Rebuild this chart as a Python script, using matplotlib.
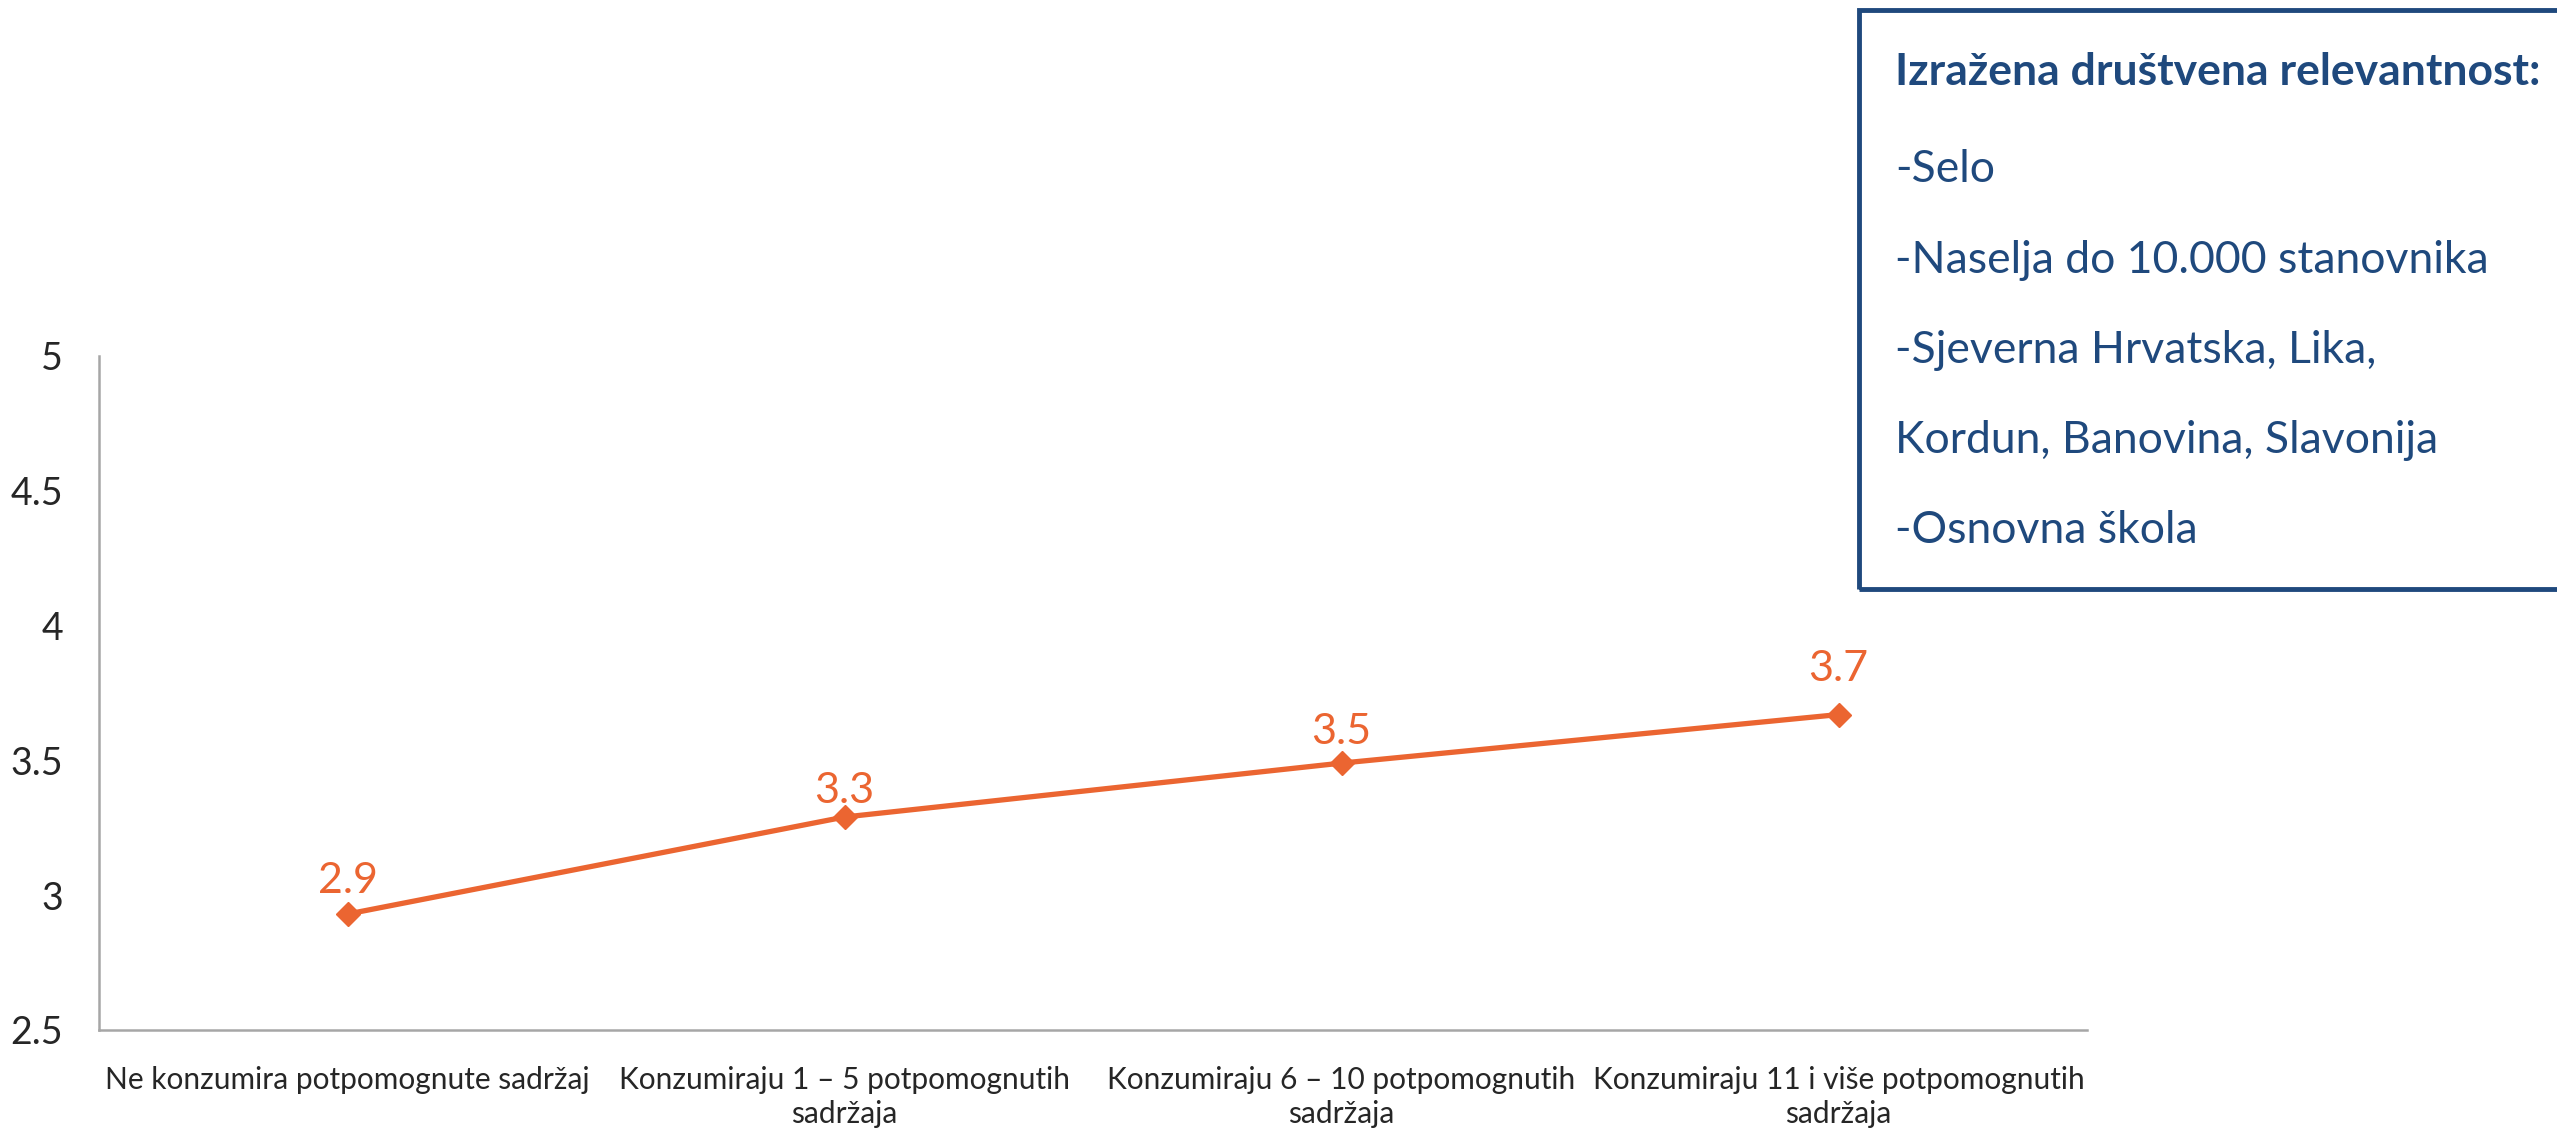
import matplotlib.pyplot as plt
from matplotlib.patches import Rectangle

# data
categories = ['Ne konzumira potpomognute sadržaj',
              'Konzumiraju 1 – 5 potpomognutih\nsadržaja',
              'Konzumiraju 6 – 10 potpomognutih\nsadržaja',
              'Konzumiraju 11 i više potpomognutih\nsadržaja']
values = [2.93, 3.29, 3.49, 3.67]
value_labels = ['2.9', '3.3', '3.5', '3.7']
yticks = [2.5, 3, 3.5, 4, 4.5, 5]

box_title = 'Izražena društvena relevantnost:'
box_lines = ['-Selo', '-Naselja do 10.000 stanovnika', '-Sjeverna Hrvatska, Lika,',
             'Kordun, Banovina, Slavonija', '-Osnovna škola']

ORANGE = '#EB6531'
BLUE = '#1F497D'
GREY = '#A6A6A6'
TEXT = '#262626'

plt.rcParams['font.family'] = ['Lato', 'DejaVu Sans']

W, H = 2557, 1129
fig = plt.figure(figsize=(W / 100, H / 100), dpi=100)
ax = fig.add_axes([99 / W, 1 - 1030 / H, (2087 - 99) / W, (1030 - 356) / H])

x = list(range(len(categories)))
ax.plot(x, values, color=ORANGE, lw=3.8, marker='D', markersize=12, zorder=3)
# label offsets above the markers (pt), as placed in the original
label_dy = [15, 10, 14, 24]
for xi, v, lab, dy in zip(x, values, value_labels, label_dy):
    ax.annotate(lab, (xi, v), xytext=(0, dy), textcoords='offset points',
                ha='center', va='baseline', fontsize=31, color=ORANGE)

ax.set_xlim(-0.5, len(categories) - 0.5)
ax.set_ylim(2.5, 5)
ax.set_yticks(yticks)
ax.set_yticklabels([f'{t:g}' for t in yticks])
ax.set_xticks(x)
ax.set_xticklabels(categories, fontsize=21.5, color=TEXT, linespacing=1.25,
                   multialignment='center')
ax.tick_params(axis='y', length=0, pad=26, labelsize=27, labelcolor=TEXT)
ax.tick_params(axis='x', length=0, pad=26)

for s in ['top', 'right']:
    ax.spines[s].set_visible(False)
for s in ['left', 'bottom']:
    ax.spines[s].set_color(GREY)
    ax.spines[s].set_linewidth(1.8)

# note box in the top right corner
box = Rectangle((1859 / W, 1 - 589 / H), (W + 20 - 1859) / W, (589 - 10) / H,
                transform=fig.transFigure, fill=False, edgecolor=BLUE, lw=3.5,
                clip_on=False)
fig.add_artist(box)

fig.text(1895 / W, 1 - 85 / H, box_title, fontsize=32, fontweight='bold',
         color=BLUE, va='baseline')
baselines = [182, 273, 363, 453, 543]
for yb, line in zip(baselines, box_lines):
    fig.text(1895 / W, 1 - yb / H, line, fontsize=32, color=BLUE, va='baseline')

fig.savefig('out.png', dpi=100)
